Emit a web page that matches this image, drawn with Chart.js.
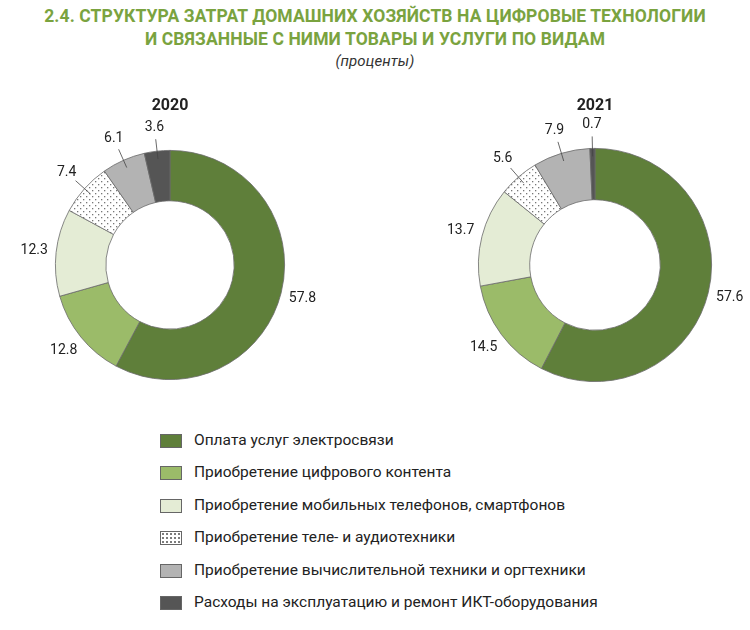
<!DOCTYPE html>
<html><head><meta charset="utf-8">
<script src="https://cdn.jsdelivr.net/npm/chart.js@4"></script>
<style>
body{margin:0;width:750px;height:630px;background:#fff;font-family:"Roboto","Open Sans",sans-serif;position:relative;overflow:hidden}
.t{position:absolute;left:0;width:750px;text-align:center;color:#7aa33f;font-weight:bold;font-size:17.5px;font-family:"Roboto",sans-serif;letter-spacing:0.1px}
.yr{position:absolute;font-weight:bold;font-size:16px;color:#222;width:100px;text-align:center;z-index:2}
canvas{position:absolute}
#leg{position:absolute;left:160px;top:431px;font-size:15.5px;color:#222}
.row{height:32.4px;display:flex;align-items:flex-start}
.sw{width:22px;height:14px;border:1px solid #666;margin-right:12px;margin-top:3px;box-sizing:border-box}
</style></head><body>
<div class="t" style="top:6px">2.4. СТРУКТУРА ЗАТРАТ ДОМАШНИХ ХОЗЯЙСТВ НА ЦИФРОВЫЕ ТЕХНОЛОГИИ</div>
<div class="t" style="top:29px">И СВЯЗАННЫЕ С НИМИ ТОВАРЫ И УСЛУГИ ПО ВИДАМ</div>
<div class="t" style="top:52px;color:#333;font-weight:normal;font-style:italic;font-size:15px">(проценты)</div>
<canvas id="c1" style="left:20px;top:100px" width="300" height="330"></canvas>
<canvas id="c2" style="left:445px;top:100px" width="300" height="330"></canvas>
<div class="yr" style="left:120px;top:95px">2020</div>
<div class="yr" style="left:545px;top:95px">2021</div>
<div id="leg"></div>
<script>
const categories=["Оплата услуг электросвязи","Приобретение цифрового контента","Приобретение мобильных телефонов, смартфонов","Приобретение теле- и аудиотехники","Приобретение вычислительной техники и оргтехники","Расходы на эксплуатацию и ремонт ИКТ-оборудования"];
const values2020=[57.8,12.8,12.3,7.4,6.1,3.6];
const values2021=[57.6,14.5,13.7,5.6,7.9,0.7];
const pc=document.createElement('canvas');pc.width=6;pc.height=6;
const px=pc.getContext('2d');px.fillStyle='#fff';px.fillRect(0,0,6,6);px.fillStyle='#777';
px.fillRect(0,0,1.3,1.3);px.fillRect(3,3,1.3,1.3);
const pattern=px.createPattern(pc,'repeat');
const colors=['#5f7f3a','#9bbb69','#e4ecd5',pattern,'#b3b3b3','#555555'];
const lab={id:'lab',afterDatasetsDraw(ch){
 const ctx=ch.ctx;const meta=ch.getDatasetMeta(0);
 ctx.save();ctx.font='14px Roboto, sans-serif';ctx.fillStyle='#222';ctx.strokeStyle='#444';ctx.lineWidth=0.8;
 meta.data.forEach((a,i)=>{const v=ch.data.datasets[0].data[i];
  const m=(a.startAngle+a.endAngle)/2;const R=a.outerRadius;
  const cx=a.x,cy=a.y;let r=R+22;
  if(v<10){r=R+24;ctx.beginPath();ctx.moveTo(cx+Math.cos(m)*(R-8),cy+Math.sin(m)*(R-8));ctx.lineTo(cx+Math.cos(m)*(R+12),cy+Math.sin(m)*(R+12));ctx.stroke();}
  ctx.textAlign='center';ctx.textBaseline='middle';
  ctx.fillText(v.toFixed(1),cx+Math.cos(m)*r,cy+Math.sin(m)*r);});
 ctx.restore();}};
function mk(id,data,pad){return new Chart(document.getElementById(id),{type:'doughnut',
 data:{labels:categories,datasets:[{data:data,backgroundColor:colors,borderColor:'#6a6a6a',borderWidth:0.8}]},
 options:{responsive:false,animation:false,cutout:'56%',layout:{padding:pad},
  plugins:{legend:{display:false},tooltip:{enabled:false}}},plugins:[lab]});}
mk('c1',values2020,{left:35,right:35,top:50,bottom:50});
mk('c2',values2021,{left:33,right:33,top:48,bottom:48});
const leg=document.getElementById('leg');
categories.forEach((c,i)=>{const r=document.createElement('div');r.className='row';
 const s=document.createElement('div');s.className='sw';
 if(i===3){s.style.background='radial-gradient(#777 0.7px,transparent 0.9px) 0 0/4px 4px, #fff';}else s.style.background=colors[i];
 const t=document.createElement('span');t.textContent=c;r.appendChild(s);r.appendChild(t);leg.appendChild(r);});
</script></body></html>
